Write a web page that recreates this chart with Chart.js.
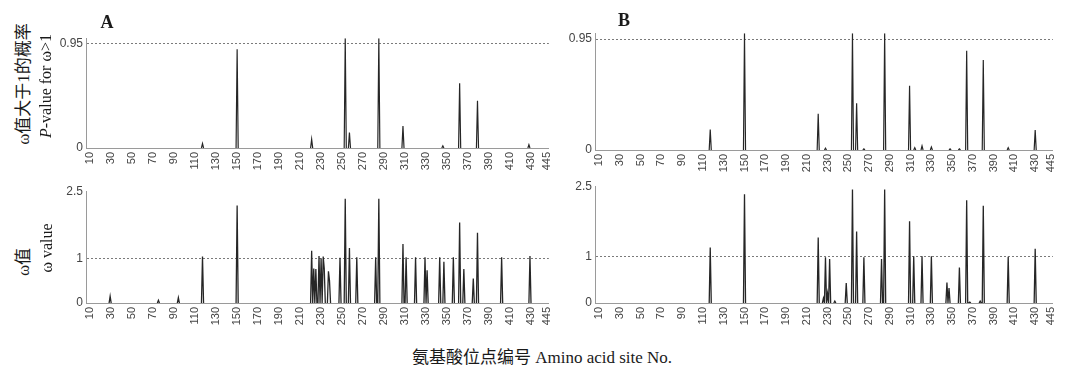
<!DOCTYPE html>
<html>
<head>
<meta charset="utf-8">
<script src="https://cdn.jsdelivr.net/npm/chart.js@4.4.1/dist/chart.umd.min.js"></script>
<style>
  body { margin: 0; background: #fff; width: 1068px; height: 366px; position: relative; overflow: hidden;
         font-family: "Liberation Serif", "Noto Sans CJK SC", serif; color: #1a1a1a; }
  .pane { position: absolute; }
  .txt { position: absolute; white-space: nowrap; transform: translate(-50%, -50%); }
  .rot { transform: translate(-50%, -50%) rotate(-90deg); }
</style>
</head>
<body>
<canvas id="pA" class="pane" width="522" height="148" style="left:42px;top:28px"></canvas>
<canvas id="pB" class="pane" width="517" height="155" style="left:551px;top:23px"></canvas>
<canvas id="wA" class="pane" width="522" height="150" style="left:42px;top:181px"></canvas>
<canvas id="wB" class="pane" width="517" height="155" style="left:551px;top:176px"></canvas>

<div class="txt" style="left:107px;top:22px;font-weight:bold;font-size:18px">A</div>
<div class="txt" style="left:624px;top:20px;font-weight:bold;font-size:18px">B</div>
<div class="txt rot" style="left:21px;top:84px;font-size:17px">ω值大于1的概率</div>
<div class="txt rot" style="left:46px;top:86px;font-size:16px"><i>P</i>-value for ω&gt;1</div>
<div class="txt rot" style="left:21px;top:262px;font-size:17px">ω值</div>
<div class="txt rot" style="left:47px;top:248px;font-size:16px">ω value</div>
<div class="txt" style="left:542px;top:355px;font-size:17px">氨基酸位点编号 Amino acid site No.</div>

<script>
// ---- DATA ----
const xTicks = [10, 30, 50, 70, 90, 110, 130, 150, 170, 190, 210, 230, 250, 270,
                290, 310, 330, 350, 370, 390, 410, 430, 445];
const pTicks = [0, 0.95];
const wTicks = [0, 1, 2.5];

// A: posterior probability of omega > 1
const pSitesA  = [117, 150, 221, 253, 257, 285, 308, 346, 362, 379, 428];
const pValuesA = [0.04, 0.90, 0.08, 1.0, 0.14, 1.0, 0.20, 0.02, 0.59, 0.43, 0.03];

// A: omega value
const wSitesA  = [29, 75, 94, 117, 150, 221, 223, 225, 228, 230, 232, 233, 237, 238, 248,
                  253, 257, 264, 282, 285, 308, 311, 320, 329, 331, 343, 347, 356, 362,
                  366, 375, 379, 402, 429];
const wValuesA = [0.15, 0.06, 0.12, 1.04, 2.18, 1.17, 0.77, 0.76, 1.05, 1.0, 1.04, 0.77, 0.71, 0.5, 1.01,
                  2.33, 1.23, 1.02, 1.02, 2.33, 1.32, 1.02, 1.02, 1.02, 0.73, 1.02, 0.92, 1.02, 1.8,
                  0.76, 0.55, 1.57, 1.02, 1.05];

// B: posterior probability of omega > 1
const pSitesB  = [117, 150, 221, 228, 254, 258, 265, 285, 309, 314, 321, 330, 348, 357,
                  364, 380, 404, 430];
const pValuesB = [0.175, 1.0, 0.31, 0.015, 1.0, 0.40, 0.01, 1.0, 0.55, 0.02, 0.035, 0.025, 0.01, 0.01,
                  0.85, 0.77, 0.02, 0.17];

// B: omega value
const wSitesB  = [117, 150, 221, 226, 228, 230, 232, 237, 248, 254, 258, 265, 282, 285,
                  309, 313, 321, 330, 345, 347, 357, 364, 367, 377, 380, 404, 430];
const wValuesB = [1.19, 2.33, 1.4, 0.1, 0.98, 0.2, 0.94, 0.04, 0.43, 2.43, 1.53, 0.98, 0.94, 2.43,
                  1.75, 1.0, 1.0, 1.0, 0.44, 0.32, 0.76, 2.2, 0.02, 0.04, 2.08, 0.99, 1.16];

// spike series: value at listed sites, baseline next to them, gap elsewhere
function spikeSeries(sites, values) {
  const v = {};
  sites.forEach((s, i) => { v[s] = values[i]; });
  const pts = [];
  for (let s = 1; s <= 447; s++) {
    if (s in v) pts.push({ x: s, y: v[s] });
    else if ((s - 1) in v || (s + 1) in v) pts.push({ x: s, y: 0 });
    else pts.push({ x: s, y: null });
  }
  return pts;
}

function makePanel(id, series, yMax, yTicks, threshold, padRight, lineW) {
  return new Chart(document.getElementById(id), {
    type: "line",
    data: {
      datasets: [{
        data: spikeSeries(series[0], series[1]),
        borderColor: "#262626",
        borderWidth: lineW,
        pointRadius: 0,
        tension: 0,
        spanGaps: false,
        fill: false
      }]
    },
    options: {
      responsive: false,
      animation: false,
      devicePixelRatio: 1,
      layout: { padding: { top: 10, right: padRight, left: 0, bottom: 0 } },
      plugins: { legend: { display: false }, tooltip: { enabled: false } },
      scales: {
        x: {
          type: "linear", min: 6, max: 447,
          afterBuildTicks: s => { s.ticks = xTicks.map(v => ({ value: v })); },
          afterFit: s => { s.height = 28; },
          grid: { display: false, drawTicks: false },
          border: { color: "#9a9a9a" },
          ticks: {
            autoSkip: false, minRotation: 90, maxRotation: 90, padding: 4,
            color: "#444", font: { family: "Liberation Sans", size: 11 },
            callback: v => String(v)
          }
        },
        y: {
          min: 0, max: yMax,
          afterBuildTicks: s => { s.ticks = yTicks.map(v => ({ value: v })); },
          afterFit: s => { s.width = 44; },
          grid: {
            drawTicks: false, lineWidth: 1,
            color: c => (c.tick && c.tick.value === threshold) ? "#7a7a7a" : "rgba(0,0,0,0)"
          },
          border: { color: "#9a9a9a", dash: [2, 2] },
          ticks: {
            padding: 3, color: "#444", font: { family: "Liberation Sans", size: 12 },
            callback: v => String(v)
          }
        }
      }
    }
  });
}

makePanel("pA", [pSitesA, pValuesA], 1.0, pTicks, 0.95, 10, 1.2);
makePanel("pB", [pSitesB, pValuesB], 1.0, pTicks, 0.95, 8, 1.2);
makePanel("wA", [wSitesA, wValuesA], 2.5, wTicks, 1, 10, 1.3);
makePanel("wB", [wSitesB, wValuesB], 2.5, wTicks, 1, 8, 1.3);
</script>
</body>
</html>
